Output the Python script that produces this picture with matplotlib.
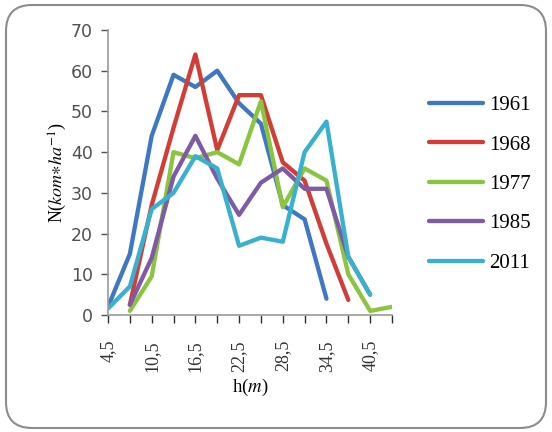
import numpy as np
import matplotlib
matplotlib.use("Agg")
import matplotlib.pyplot as plt
from matplotlib.patches import FancyBboxPatch
from matplotlib.transforms import IdentityTransform

nan = np.nan
heights = ['4,5', '7,5', '10,5', '13,5', '16,5', '19,5', '22,5', '25,5',
           '28,5', '31,5', '34,5', '37,5', '40,5', '43,5']
years = ['1961', '1968', '1977', '1985', '2011']
n1961 = [2, 15, 44, 59, 56, 60, 52, 47, 27, 23.5, 4, nan, nan, nan]
n1968 = [nan, 2.5, 27, 46, 64, 40.5, 54, 54, 37.5, 33, 17.5, 3.7, nan, nan]
n1977 = [nan, 1, 9.5, 40, 38.5, 40, 37, 52.5, 26.5, 36, 33, 10, 1, 2]
n1985 = [nan, 2.5, 14, 34, 44, 33.5, 24.6, 32.5, 36, 31, 31, 14.3, 5, nan]
n2011 = [1.6, 7, 26, 30, 39, 36, 17, 19, 18, 40, 47.5, 14.3, 5, nan]
colors = ['#3f78c2', '#d23d37', '#8bc43f', '#7f5aa5', '#38b1cf']

plt.rcParams['mathtext.fontset'] = 'stix'

fig = plt.figure(figsize=(5.52, 4.32), dpi=100)
fig.patch.set_facecolor('white')

# rounded frame around the chart
frame = FancyBboxPatch((6, 4), 540, 423, boxstyle='round,pad=0,rounding_size=26',
                       transform=IdentityTransform(), facecolor='none',
                       edgecolor='#8c8c8c', linewidth=1.5, zorder=-1)
fig.patches.append(frame)

ax = fig.add_axes([108 / 552, 1 - 315 / 432, 284 / 552, 285 / 432])
ax.set_facecolor('none')
x = np.arange(len(heights))
for vals, yr, c in zip([n1961, n1968, n1977, n1985, n2011], years, colors):
    ax.plot(x, vals, color=c, lw=3.1, label=yr, solid_capstyle='round')

ax.set_xlim(0, len(heights) - 1)
ax.set_ylim(0, 70)
ax.set_yticks(range(0, 71, 10))
ax.set_xticks(x)
ax.set_xticklabels([h if i % 2 == 0 else '' for i, h in enumerate(heights)],
                   rotation=90, fontsize=13, family='Liberation Serif')
ax.tick_params(axis='y', labelsize=12.5, colors='#505050', length=5,
               width=1, pad=6)
ax.tick_params(axis='x', length=6, width=1, colors='#303030', pad=12)
for t in ax.get_xticklines() + ax.get_yticklines():
    t.set_color('#9a9a9a')
for s in ['top', 'right']:
    ax.spines[s].set_visible(False)
for s in ['left', 'bottom']:
    ax.spines[s].set_color('#9a9a9a')
    ax.spines[s].set_linewidth(1.2)

ax.set_ylabel(r'N($\mathit{kom{\ast}ha}^{\mathit{-1}}$)', family='Liberation Serif',
              fontsize=13, labelpad=1)
ax.set_xlabel(r'h($\mathit{m}$)', family='Liberation Serif', fontsize=13.5,
              labelpad=4)

ax.legend(loc='upper left', bbox_to_anchor=(410 / 552, 1 - 77 / 432),
          bbox_transform=fig.transFigure, frameon=False,
          prop={'family': 'Liberation Serif', 'size': 15},
          handlelength=2.6, handletextpad=0.3, labelspacing=0.95)

fig.savefig('out.png', dpi=100)
